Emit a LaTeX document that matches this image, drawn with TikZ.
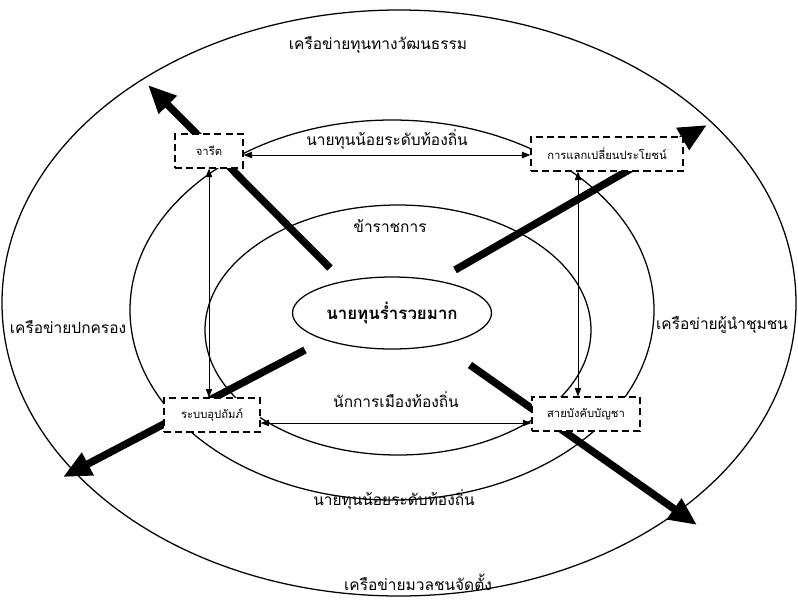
\documentclass[tikz,border=0pt]{standalone}
\usepackage{fontspec}
\newfontfamily\thaifont[Script=Thai]{Loma}
\usetikzlibrary{arrows.meta,shapes.geometric}

\begin{document}
\begin{tikzpicture}[x=0.025cm,y=-0.025cm]

  % Text sizes
  \def\ringsize{\fontsize{11}{13}\selectfont}
  \def\boxsize{\fontsize{8}{10}\selectfont}
  \def\ringwidth{0.9pt} % line thickness of the rings

  \tikzset{ringlabel/.style={font=\thaifont\ringsize, inner sep=1pt},
           linkbox/.style={draw, fill=white, dash pattern=on 5pt off 3pt, line width=0.8pt,
                           font=\thaifont\boxsize, minimum height=0.85cm, inner sep=2pt},
           linkarrow/.style={{Triangle[length=6pt,width=4.5pt]}-{Triangle[length=6pt,width=4.5pt]}, line width=0.6pt},
           bigarrow/.style={line width=5.3pt, -{Triangle[length=20pt,width=17pt]}}}

  \useasboundingbox (0,0) rectangle (798,601);

  % The three rings
  \foreach \cx/\cy/\rx/\ry in {399/303/397/293, 392/310/262/190, 398/330/193/125} {
    \draw[line width=\ringwidth] (\cx,\cy) ellipse [x radius=\rx, y radius=\ry];
  }

  % Core
  \node[ellipse, draw, line width=\ringwidth, minimum width=4.9cm, minimum height=1.8cm,
        font=\thaifont\bfseries\fontsize{12}{14}\selectfont] (core) at (392,313) {นายทุนร่ำรวยมาก};

  % Ends of the thick arrows
  \coordinate (ulfrom) at (330,268);  \coordinate (ulto) at (148,85);
  \coordinate (urfrom) at (455,270);  \coordinate (urto) at (707,125);
  \coordinate (llfrom) at (305,350);  \coordinate (llto) at (63,477);
  \coordinate (lrfrom) at (470,365);  \coordinate (lrto) at (697,525);

  \foreach \a in {ul, ur, ll, lr} {
    \draw[bigarrow] (\a from) -- (\a to);
  }

  % Ring labels
  \node[ringlabel] (culture) at (378,45) {เครือข่ายทุนทางวัฒนธรรม};
  \node[ringlabel] (smalltop) at (387,140) {นายทุนน้อยระดับท้องถิ่น};
  \node[ringlabel] (officials) at (390,226) {ข้าราชการ};
  \node[ringlabel] (govern) at (68,327) {เครือข่ายปกครอง};
  \node[ringlabel] (leaders) at (722,325) {เครือข่ายผู้นำชุมชน};
  \node[ringlabel] (politics) at (396,400) {นักการเมืองท้องถิ่น};
  \node[ringlabel] (smallbottom) at (394,500) {นายทุนน้อยระดับท้องถิ่น};
  \node[ringlabel] (masses) at (418,582) {เครือข่ายมวลชนจัดตั้ง};

  % Dashed boxes
  \node[linkbox, minimum width=1.7cm] (custom) at (209,151) {จารีต};
  \node[linkbox, minimum width=3.8cm] (exchange) at (607,154) {การแลกเปลี่ยนประโยชน์};
  \node[linkbox, minimum width=2.4cm] (patron) at (212,415) {ระบบอุปถัมภ์};
  \node[linkbox, minimum width=2.7cm] (command) at (586,414) {สายบังคับบัญชา};

  % Links between the boxes
  \draw[linkarrow] ([yshift=-0.1cm]custom.east) -- ([yshift=-0.1cm]custom.east -| exchange.west);
  \draw[linkarrow] (custom.south) -- (custom.south |- patron.north);
  \draw[linkarrow] ([xshift=-0.2cm]command.north) -- ([xshift=-0.2cm]command.north |- exchange.south);
  \draw[linkarrow] ([yshift=-0.2cm]patron.east) -- ([yshift=-0.2cm]patron.east -| command.west);

\end{tikzpicture}
\end{document}
